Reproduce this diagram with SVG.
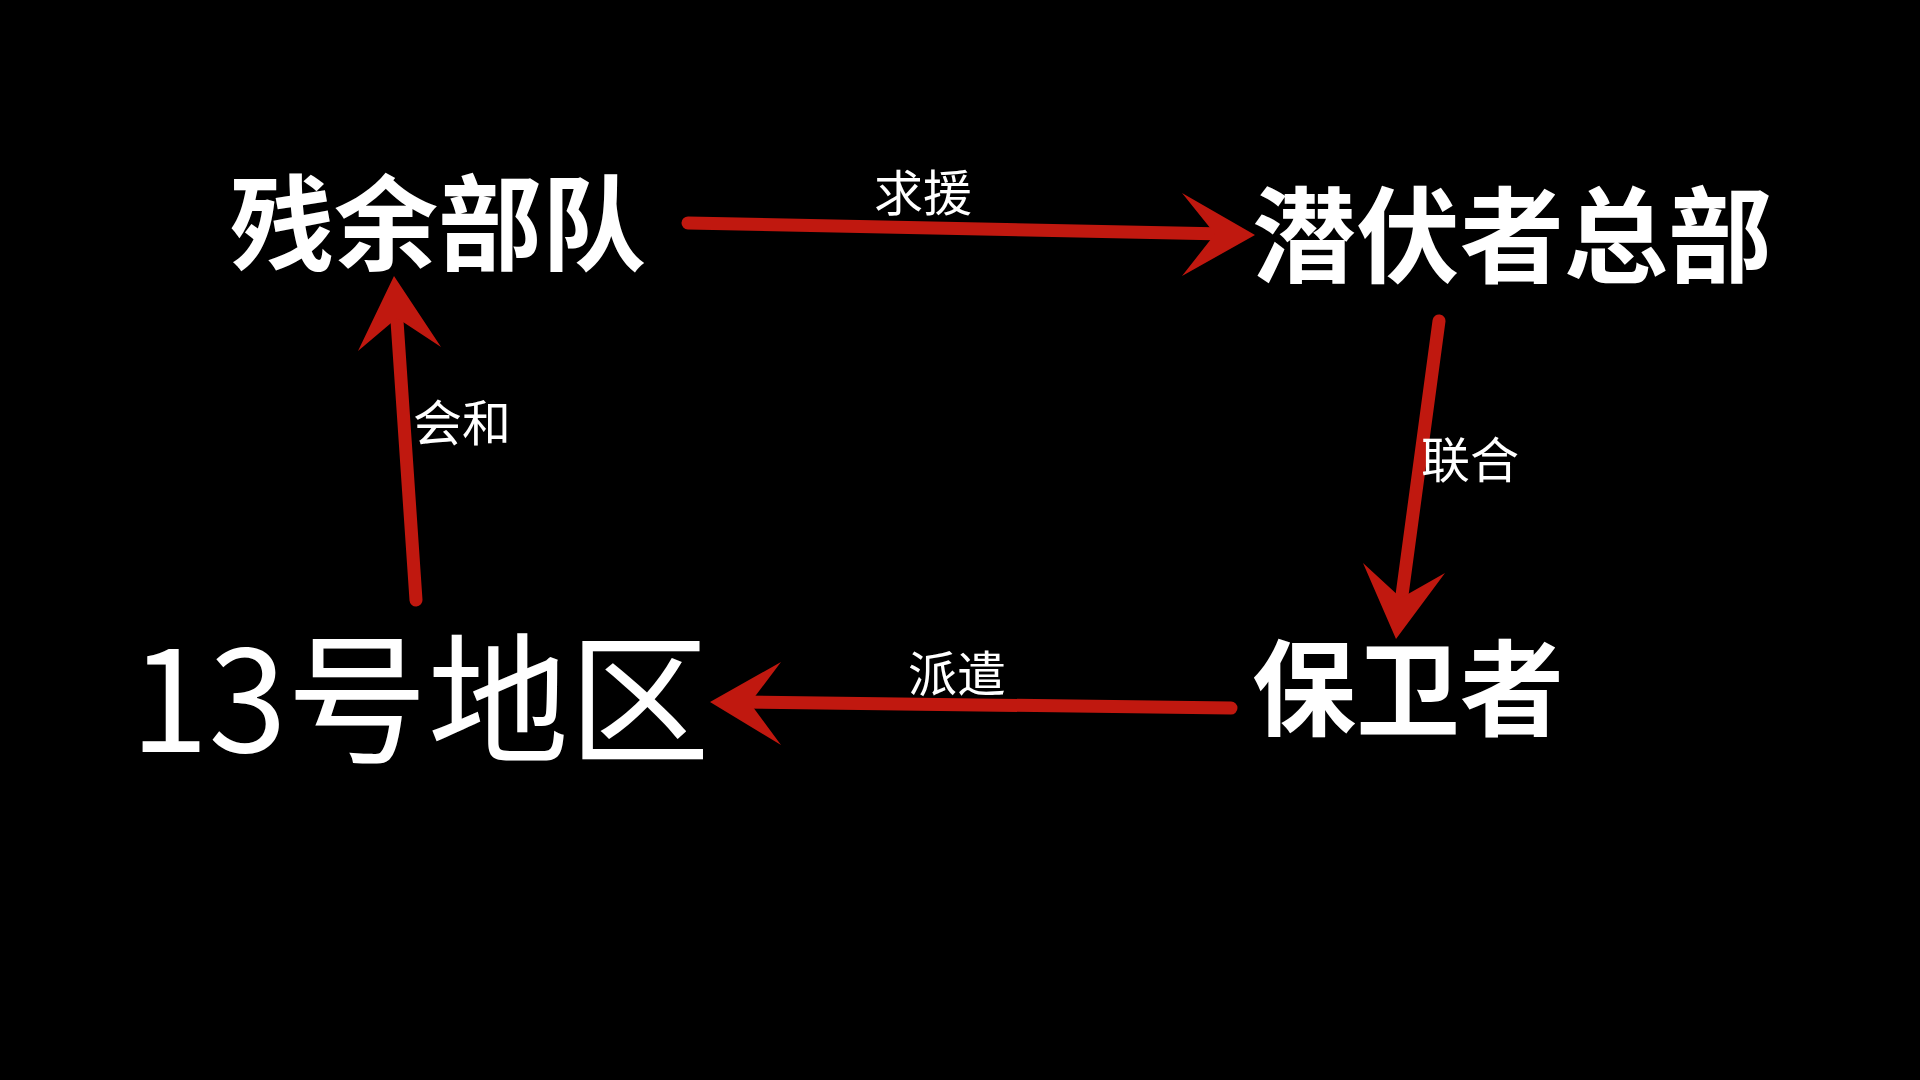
<svg xmlns="http://www.w3.org/2000/svg" width="1920" height="1080" viewBox="0 0 1920 1080">
<style>
.n{fill:#fff;font-family:"Noto Sans CJK SC","Noto Sans",sans-serif;text-anchor:middle}
.b{font-weight:bold;font-size:104px}
.r{font-size:141px}
.l{fill:#fff;font-family:"Noto Sans CJK SC",sans-serif;font-size:49px;text-anchor:middle}
.e{stroke:#c0180f;stroke-width:13;stroke-linecap:round;fill:none}
.h{fill:#c0180f}
</style>
<rect width="1920" height="1080" fill="#000"/>
<g id="n1"><text class="n b" x="438" y="263">残余部队</text></g>
<g id="n2"><text class="n b" x="1512" y="275">潜伏者总部</text></g>
<g id="n3"><text class="n b" x="1408" y="728">保卫者</text></g>
<g id="n4"><text class="n r" x="420" y="752">13号地区</text></g>
<g id="edges">
<line class="e" x1="688" y1="223" x2="1225" y2="234"/>
<polygon class="h" points="1255,235 1182,193 1215,234 1182,276"/>
<line class="e" x1="1439" y1="321" x2="1400" y2="610"/>
<polygon class="h" points="1396,639 1363,563 1401,598 1445,573"/>
<line class="e" x1="1231" y1="708" x2="740" y2="702"/>
<polygon class="h" points="710,702 781,662 750,703 781,745"/>
<line class="e" x1="416" y1="600" x2="396" y2="306"/>
<polygon class="h" points="394,276 358,351 397,318 441,347"/>
</g>
<g id="labels">
<text class="l" x="923" y="211">求援</text>
<text class="l" x="1470" y="478">联合</text>
<text class="l" x="957" y="692">派遣</text>
<text class="l" x="462" y="441">会和</text>
</g>
</svg>
